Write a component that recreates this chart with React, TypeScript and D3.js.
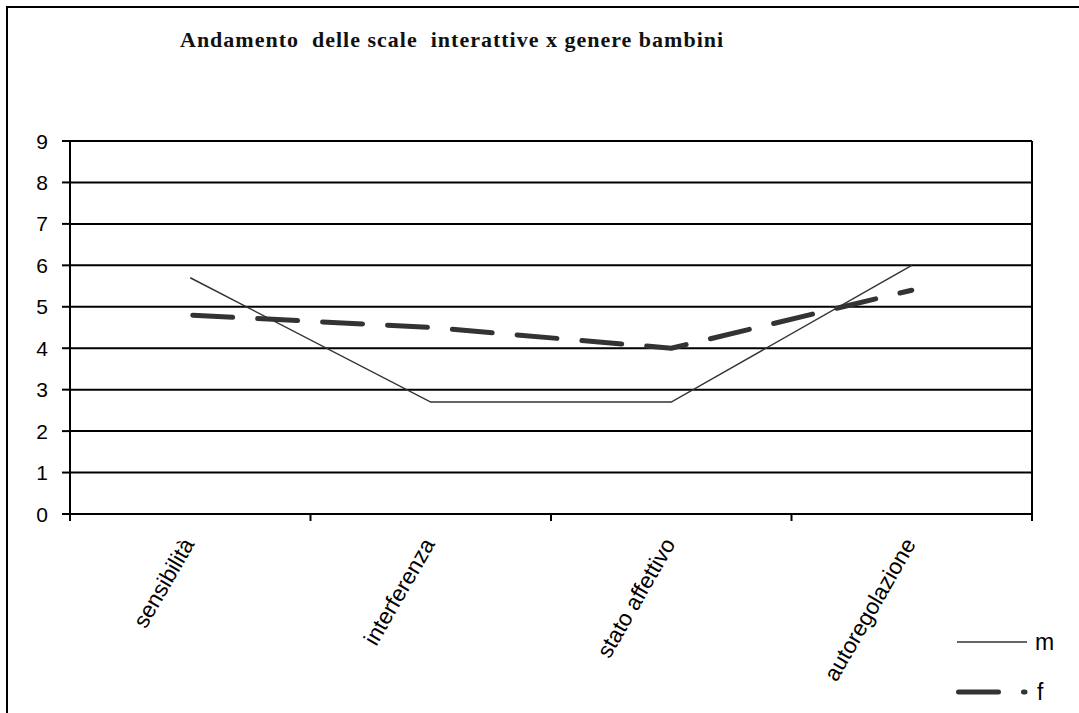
import React, { useEffect } from "react";
import * as d3 from "d3";

const categories = ["sensibilità", "interferenza", "stato affettivo", "autoregolazione"];
const mValues = [5.7, 2.7, 2.7, 6.0];
const fValues = [4.8, 4.5, 4.0, 5.4];
const yTicks = [0, 1, 2, 3, 4, 5, 6, 7, 8, 9];
const title = "Andamento  delle scale  interattive x genere bambini";

const W = 1079;
const H = 713;
const left = 70;
const right = 1032;
const top = 141;
const bottom = 514;

export default function App() {
  useEffect(() => {
    document.body.style.margin = "0";
  }, []);

  const x = d3.scaleBand<string>().domain(categories).range([left, right]).padding(0);
  const y = d3.scaleLinear().domain([0, 9]).range([bottom, top]);
  const cx = (c: string) => (x(c) as number) + x.bandwidth() / 2;

  const line = d3
    .line<number>()
    .x((_, i) => cx(categories[i]))
    .y((v) => y(v));

  const boundaries = categories.map((c) => x(c) as number).concat([right]);
  const font = "Arial, 'Liberation Sans', sans-serif";
  const ink = "#333333";

  return (
    <svg width={W} height={H} style={{ display: "block", background: "#fff" }}>
      <rect x={7} y={7} width={W + 20} height={H + 20} fill="none" stroke="#000" strokeWidth={2} />
      <text
        x={180}
        y={47}
        fontFamily="'Liberation Serif', 'Times New Roman', serif"
        fontWeight="bold"
        fontSize={22}
        letterSpacing={1}
        fill="#111"
        style={{ whiteSpace: "pre" }}
      >
        {title}
      </text>

      {yTicks.map((t) => (
        <g key={t}>
          <line x1={left} x2={right} y1={y(t)} y2={y(t)} stroke="#000" strokeWidth={2} />
          <line x1={left - 8} x2={left} y1={y(t)} y2={y(t)} stroke="#000" strokeWidth={2} />
          <text x={48} y={y(t) + 7.5} textAnchor="end" fontFamily={font} fontSize={21}>
            {t}
          </text>
        </g>
      ))}

      <line x1={left} x2={left} y1={top} y2={bottom + 6} stroke="#000" strokeWidth={2} />
      <line x1={right} x2={right} y1={top} y2={bottom} stroke="#000" strokeWidth={2} />
      {boundaries.map((b, i) => (
        <line key={i} x1={b} x2={b} y1={bottom} y2={bottom + 7} stroke="#000" strokeWidth={2} />
      ))}

      {categories.map((c) => (
        <text
          key={c}
          transform={`translate(${cx(c) - 9},${bottom + 22}) rotate(-60)`}
          textAnchor="end"
          dominantBaseline="hanging"
          fontFamily={font}
          fontSize={22.5}
        >
          {c}
        </text>
      ))}

      <path d={line(mValues) || ""} fill="none" stroke={ink} strokeWidth={1.5} />
      <path
        d={line(fValues) || ""}
        fill="none"
        stroke={ink}
        strokeWidth={5}
        strokeDasharray="40,25"
        strokeLinecap="round"
        strokeLinejoin="round"
        style={{ strokeDashoffset: -2.5 }}
      />

      <line x1={957} x2={1027} y1={642} y2={642} stroke={ink} strokeWidth={1.5} />
      <text x={1035} y={650} fontFamily={font} fontSize={23}>m</text>
      <line
        x1={958.5}
        x2={1025}
        y1={692}
        y2={692}
        stroke={ink}
        strokeWidth={5}
        strokeDasharray="40,25"
        strokeLinecap="round"
      />
      <text x={1037} y={700} fontFamily={font} fontSize={23}>f</text>
    </svg>
  );
}
